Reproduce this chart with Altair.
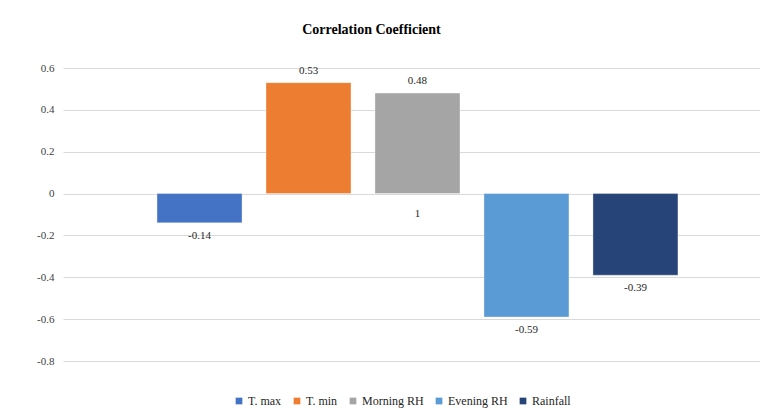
import altair as alt
import pandas as pd

series = ["T. max", "T. min", "Morning RH", "Evening RH", "Rainfall"]
values = [-0.14, 0.53, 0.48, -0.59, -0.39]
colors = ["#4472C4", "#ED7D31", "#A5A5A5", "#5B9BD5", "#264478"]
category = "1"

df = pd.DataFrame({"cat": [category] * len(series), "series": series, "value": values})
cat_df = pd.DataFrame({"cat": [category], "value": [0.0]})

FONT = "Liberation Serif"

x = alt.X("cat:N", axis=None,
          scale=alt.Scale(paddingInner=0, paddingOuter=0.169, align=0.534))
y = alt.Y("value:Q",
          scale=alt.Scale(domain=[-0.8, 0.6], nice=False, zero=False),
          axis=alt.Axis(title=None, values=[-0.8, -0.6, -0.4, -0.2, 0, 0.2, 0.4, 0.6],
                        labelExpr="datum.value == 0 ? '0' : replace(format(datum.value, '.1f'), '\u2212', '-')",
                        domain=False, ticks=False, labelPadding=9,
                        grid=True, gridColor="#D9D9D9", gridWidth=1,
                        labelFont=FONT, labelFontSize=11, labelColor="#404040"))

xoff = alt.XOffset("series:N", scale=alt.Scale(domain=series, paddingInner=0.22, paddingOuter=0))

bars = alt.Chart(df).mark_bar(stroke="white", strokeOpacity=0.35, strokeWidth=1).encode(
    x=x, xOffset=xoff, y=y,
    color=alt.Color("series:N",
                    scale=alt.Scale(domain=series, range=colors),
                    legend=alt.Legend(title=None, orient="none", direction="horizontal",
                                      legendX=170, legendY=327, columns=5,
                                      symbolType="square", symbolSize=45, symbolStrokeWidth=0,
                                      labelFont=FONT, labelFontSize=12, labelColor="#262626",
                                      columnPadding=9, labelOffset=3)),
)

base_lab = alt.Chart(df).transform_calculate(lab="toString(datum.value)")

pos_labels = base_lab.transform_filter("datum.value >= 0").mark_text(
    font=FONT, fontSize=11, color="#262626", dy=-12).encode(
    x=x, xOffset=xoff, y=y, text="lab:N")

neg_labels = base_lab.transform_filter("datum.value < 0").mark_text(
    font=FONT, fontSize=11, color="#262626", dy=13).encode(
    x=x, xOffset=xoff, y=y, text="lab:N")

cat_label = alt.Chart(cat_df).mark_text(font=FONT, fontSize=11, color="#262626", dy=20).encode(
    x=x, y=y, text="cat:N",
)

chart = alt.layer(bars, pos_labels, neg_labels, cat_label).properties(
    width=697, height=293,
    padding={"left": 55, "top": 60, "right": 0, "bottom": 52},
    autosize=alt.AutoSizeParams(type="none"),
    title=alt.TitleParams("Correlation Coefficient", font=FONT, fontSize=14, fontWeight="bold",
                          color="#000000", dx=-40, offset=25),
).configure_view(stroke=None)

chart.save("out.html", embed_options={"renderer": "svg", "actions": False})
